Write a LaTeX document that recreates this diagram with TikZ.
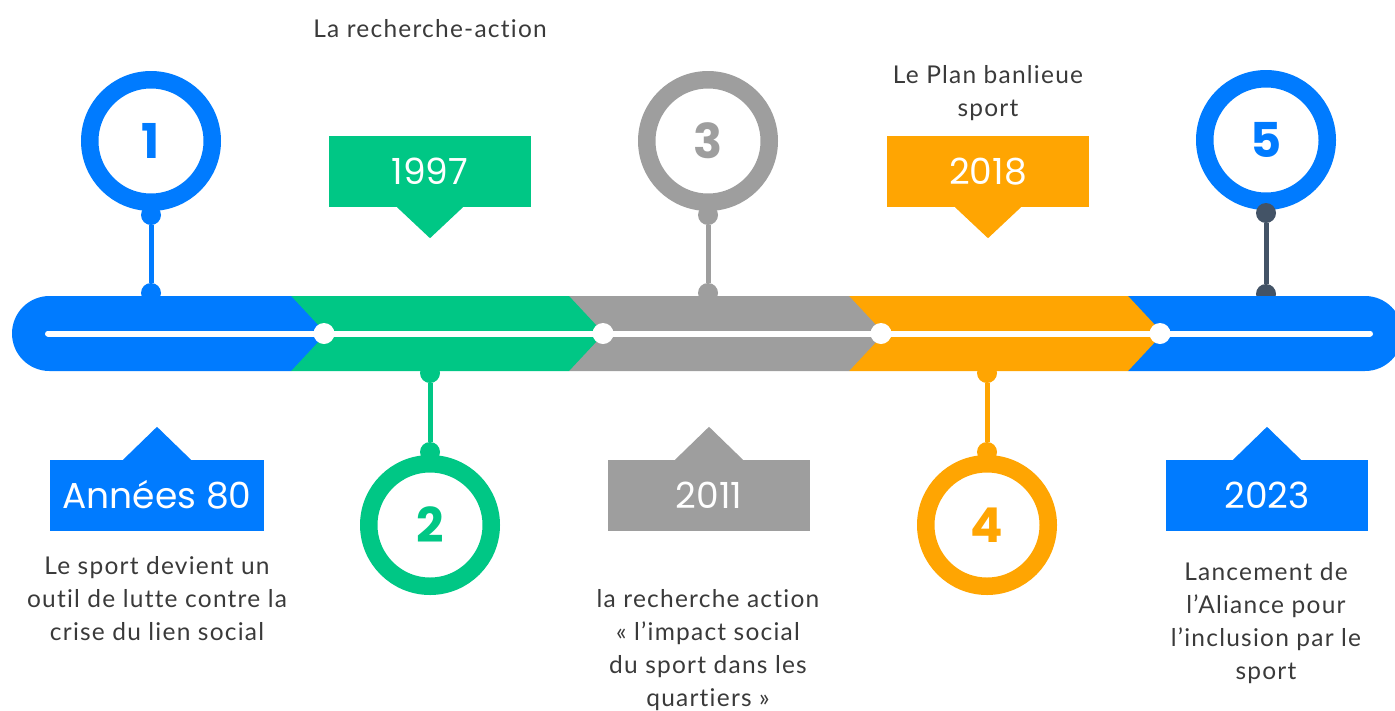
\documentclass[tikz,border=0pt]{standalone}
\usepackage{fontspec}
\setmainfont{Lato}[LetterSpace=5, Ligatures={NoCommon}]
\newfontfamily\numfont{Poppins}
\definecolor{cblue}{HTML}{007BFF}
\definecolor{cgreen}{HTML}{00C785}
\definecolor{cgray}{HTML}{9E9E9E}
\definecolor{corange}{HTML}{FFA502}
\definecolor{cslate}{HTML}{435366}
\definecolor{ctext}{HTML}{3A3A3A}
\tikzset{
  ring/.style={circle, draw=#1, line width=17.5pt, minimum size=122.5pt, inner sep=0pt,
    text=#1, font=\numfont\bfseries\fontsize{48}{48}\selectfont, text height=34pt, text depth=0pt},
  pindot/.style={circle, fill=#1, minimum size=20pt, inner sep=0pt},
  stem/.style={draw=#1, line width=5pt},
  yearbox/.style={rectangle, fill=#1, minimum width=202pt, minimum height=71pt, inner sep=0pt,
    text=white, font=\numfont\fontsize{36}{36}\selectfont, text height=25pt, text depth=0pt},
  desc/.style={align=center, text=ctext, font=\fontsize{24.5}{33}\selectfont, inner sep=0pt},
  wdot/.style={circle, fill=white, minimum size=21pt, inner sep=0pt}
}
\begin{document}
\begin{tikzpicture}[x=1pt,y=-1pt]
\useasboundingbox (0,0) rectangle (1395,710);
% ---- pins (drawn before the bar)
\node[ring=cblue] (p1) at (151,141) {1};
\node[pindot=cblue] (d1a) at (151,215) {};
\node[pindot=cblue] (d1b) at (151,293) {};
\draw[stem=cblue] (d1a) -- (d1b);

\node[ring=cgreen] (p2) at (430,525) {2};
\node[pindot=cgreen] (d2a) at (430,373) {};
\node[pindot=cgreen] (d2b) at (430,452) {};
\draw[stem=cgreen] (d2a) -- (d2b);

\node[ring=cgray] (p3) at (708,141) {3};
\node[pindot=cgray] (d3a) at (708,215) {};
\node[pindot=cgray] (d3b) at (708,293) {};
\draw[stem=cgray] (d3a) -- (d3b);

\node[ring=corange] (p4) at (987,525) {4};
\node[pindot=corange] (d4a) at (987,373) {};
\node[pindot=corange] (d4b) at (987,452) {};
\draw[stem=corange] (d4a) -- (d4b);

\node[ring=cblue] (p5) at (1266,140) {5};
\node[pindot=cslate] (d5a) at (1266,213) {};
\node[pindot=cslate] (d5b) at (1266,294) {};
\draw[stem=cslate] (d5a) -- (d5b);

% ---- bar segments, right to left
\fill[cblue] (1128,296) -- (1365,296) arc[start angle=-90, end angle=90, radius=37.5] -- (1128,371) -- cycle;
\fill[corange] (849,296) -- (1128,296) -- (1163,333.5) -- (1128,371) -- (849,371) -- cycle;
\fill[cgray] (569,296) -- (849,296) -- (884,333.5) -- (849,371) -- (569,371) -- cycle;
\fill[cgreen] (291,296) -- (569,296) -- (604,333.5) -- (569,371) -- (291,371) -- cycle;
\fill[cblue] (291,296) -- (326,333.5) -- (291,371) -- (49.5,371) arc[start angle=90, end angle=270, radius=37.5] -- cycle;

% ---- white line and dots
\coordinate (wl) at (48,333.5);
\coordinate (wr) at (1370,333.5);
\draw[white, line width=6pt, line cap=round] (wl) -- (wr);
\node[wdot] (w1) at (324,333.5) {};
\node[wdot] (w2) at (603,333.5) {};
\node[wdot] (w3) at (881,333.5) {};
\node[wdot] (w4) at (1160,333.5) {};

% ---- year boxes
\node[yearbox=cblue, minimum width=214pt] (b1) at (157,495.5) {Années 80};
\fill[cblue] ([xshift=-34pt]b1.north) -- ++(34,-33) -- ++(34,33) -- cycle;
\node[yearbox=cgreen] (b2) at (430,171.5) {1997};
\fill[cgreen] ([xshift=-33pt]b2.south) -- ++(33,31) -- ++(33,-31) -- cycle;
\node[yearbox=cgray] (b3) at (709,495.5) {2011};
\fill[cgray] ([xshift=-34pt]b3.north) -- ++(34,-33) -- ++(34,33) -- cycle;
\node[yearbox=corange] (b4) at (988,171.5) {2018};
\fill[corange] ([xshift=-33pt]b4.south) -- ++(33,31) -- ++(33,-31) -- cycle;
\node[yearbox=cblue] (b5) at (1267,495.5) {2023};
\fill[cblue] ([xshift=-34pt]b5.north) -- ++(34,-33) -- ++(34,33) -- cycle;

% ---- descriptions
\node[desc, anchor=base] (t2) at (430,37) {La recherche-action};
\node[desc, anchor=north] (t4) at (988,65) {Le Plan banlieue\\sport};
\node[desc, anchor=north] (t1) at (157,556) {Le sport devient un\\outil de lutte contre la\\crise du lien social};
\node[desc, anchor=north] (t3) at (708,589) {la recherche action\\« l’impact social\\du sport dans les\\quartiers »};
\node[desc, anchor=north] (t5) at (1266,562) {Lancement de\\l’Aliance pour\\l’inclusion par le\\sport};
\end{tikzpicture}
\end{document}
